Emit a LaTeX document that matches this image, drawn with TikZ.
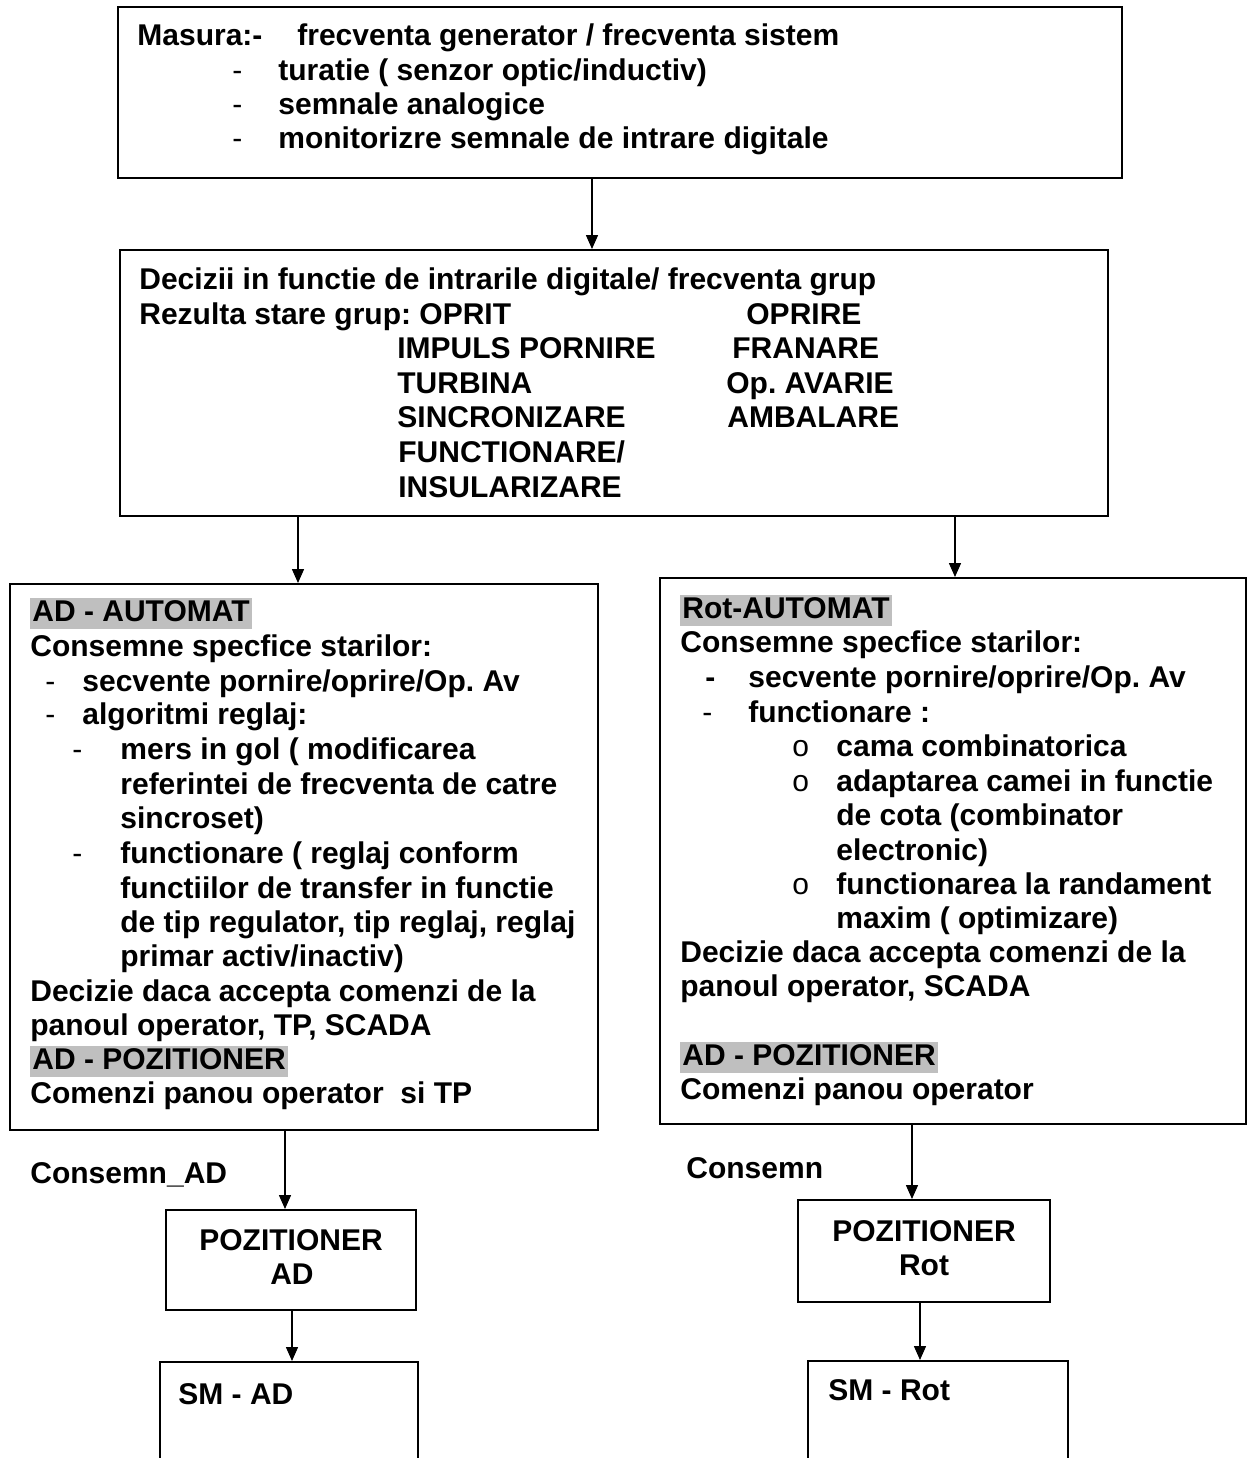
\documentclass[tikz,border=0pt]{standalone}
\usepackage{fontspec}
\setmainfont{Liberation Sans}
\usetikzlibrary{fit,arrows.meta}
\frenchspacing
\begin{document}
\begin{tikzpicture}[x=0.5pt,y=-0.5pt,
  box/.style={draw,line width=1pt,inner sep=0pt,fit={#1}},
  txt/.style={anchor=base west,inner sep=0pt,font=\fontsize{15}{17.25}\selectfont\bfseries\frenchspacing},
  ctxt/.style={anchor=base,inner sep=0pt,font=\fontsize{15}{17.25}\selectfont\bfseries},
  hl/.style={txt,fill=black!25,inner xsep=1pt,text height=11.5pt,text depth=4pt},
  dsh/.style={txt,font=\fontsize{15}{17.25}\selectfont\mdseries},
  arr/.style={line width=0.75pt,-{Triangle[width=6pt,length=7pt]}}]
\clip (0,0) rectangle (1248,1458);
\fill[white] (0,0) rectangle (1248,1458);
% boxes
\node[box={(118,7) (1122,178)}] (b1) {};
\node[box={(120,250) (1108,516)}] (b2) {};
\node[box={(10,584) (598,1130)}] (b3) {};
\node[box={(660,578) (1246,1124)}] (b4) {};
\node[box={(166,1210) (416,1310)}] (b5) {};
\node[box={(160,1362) (418,1500)}] (b6) {};
\node[box={(798,1200) (1050,1302)}] (b7) {};
\node[box={(808,1361) (1068,1500)}] (b8) {};
% box 1 text
\node[txt] (t1a) at (137,45) {Masura:-};
\node[txt] (t1b) at (297,45) {frecventa generator / frecventa sistem};
\node[dsh] (d1a) at (232,80) {-};
\node[txt] (t1c) at (278,80) {turatie ( senzor optic/inductiv)};
\node[dsh] (d1b) at (232,114) {-};
\node[txt] (t1d) at (278,114) {semnale analogice};
\node[dsh] (d1c) at (232,148) {-};
\node[txt] (t1e) at (278,148) {monitorizre semnale de intrare digitale};
% box 2 text
\node[txt] (t2a) at (139,289) {Decizii in functie de intrarile digitale/ frecventa grup};
\node[txt] (t2b) at (139,324) {Rezulta stare grup: OPRIT};
\node[txt] (t2c) at (746,324) {OPRIRE};
\node[txt] (t2d) at (397,358) {IMPULS PORNIRE};
\node[txt] (t2e) at (732,358) {FRANARE};
\node[txt] (t2f) at (397,393) {TURBINA};
\node[txt] (t2g) at (726,393) {Op. AVARIE};
\node[txt] (t2h) at (397,427) {SINCRONIZARE};
\node[txt] (t2i) at (727,427) {AMBALARE};
\node[txt] (t2j) at (398,462) {FUNCTIONARE/};
\node[txt] (t2k) at (398,497) {INSULARIZARE};
% box 3 text
\node[hl] (t3a) at (30,621) {AD - AUTOMAT};
\node[txt] (t3b) at (30,656) {Consemne specfice starilor:};
\node[dsh] (d3a) at (45,691) {-};
\node[txt] (t3c) at (82,691) {secvente pornire/oprire/Op. Av};
\node[dsh] (d3b) at (45,724) {-};
\node[txt] (t3d) at (82,724) {algoritmi reglaj:};
\node[dsh] (d3c) at (72,759) {-};
\node[txt] (t3e) at (120,759) {mers in gol ( modificarea};
\node[txt] (t3f) at (120,794) {referintei de frecventa de catre};
\node[txt] (t3g) at (120,828) {sincroset)};
\node[dsh] (d3d) at (72,863) {-};
\node[txt] (t3h) at (120,863) {functionare ( reglaj conform};
\node[txt] (t3i) at (120,898) {functiilor de transfer in functie};
\node[txt] (t3j) at (120,932) {de tip regulator, tip reglaj, reglaj};
\node[txt] (t3k) at (120,966) {primar activ/inactiv)};
\node[txt] (t3l) at (30,1001) {Decizie daca accepta comenzi de la};
\node[txt] (t3m) at (30,1035) {panoul operator, TP, SCADA};
\node[hl] (t3n) at (30,1069) {AD - POZITIONER};
\node[txt] (t3o) at (30,1103) {Comenzi panou operator\ \ si TP};
% box 4 text
\node[hl] (t4a) at (680,618) {Rot-AUTOMAT};
\node[txt] (t4b) at (680,652) {Consemne specfice starilor:};
\node[txt] (d4a) at (705,687) {-};
\node[txt] (t4c) at (748,687) {secvente pornire/oprire/Op. Av};
\node[dsh] (d4b) at (702,722) {-};
\node[txt] (t4d) at (748,722) {functionare :};
\node[dsh] (o4a) at (792,756) {o};
\node[txt] (t4e) at (836,756) {cama combinatorica};
\node[dsh] (o4b) at (792,791) {o};
\node[txt] (t4f) at (836,791) {adaptarea camei in functie};
\node[txt] (t4g) at (836,825) {de cota (combinator};
\node[txt] (t4h) at (836,860) {electronic)};
\node[dsh] (o4c) at (792,894) {o};
\node[txt] (t4i) at (836,894) {functionarea la randament};
\node[txt] (t4j) at (836,928) {maxim ( optimizare)};
\node[txt] (t4k) at (680,962) {Decizie daca accepta comenzi de la};
\node[txt] (t4l) at (680,996) {panoul operator, SCADA};
\node[hl] (t4m) at (680,1065) {AD - POZITIONER};
\node[txt] (t4n) at (680,1099) {Comenzi panou operator};
% labels
\node[txt] (l1) at (30,1183) {Consemn\_AD};
\node[txt] (l2) at (686,1178) {Consemn};
% small boxes text
\node[ctxt] (t5a) at (291,1250) {POZITIONER};
\node[ctxt] (t5b) at (292,1284) {AD};
\node[ctxt] (t7a) at (924,1241) {POZITIONER};
\node[ctxt] (t7b) at (924,1275) {Rot};
\node[txt] (t6) at (178,1404) {SM - AD};
\node[txt] (t8) at (828,1400) {SM - Rot};
% arrows
\draw[arr] (592,0 |- b1.south) -- (592,0 |- b2.north);
\draw[arr] (298,0 |- b2.south) -- (298,0 |- b3.north);
\draw[arr] (955,0 |- b2.south) -- (955,0 |- b4.north);
\draw[arr] (285,0 |- b3.south) -- (285,0 |- b5.north);
\draw[arr] (292,0 |- b5.south) -- (292,0 |- b6.north);
\draw[arr] (912,0 |- b4.south) -- (912,0 |- b7.north);
\draw[arr] (920,0 |- b7.south) -- (920,0 |- b8.north);
\end{tikzpicture}
\end{document}
